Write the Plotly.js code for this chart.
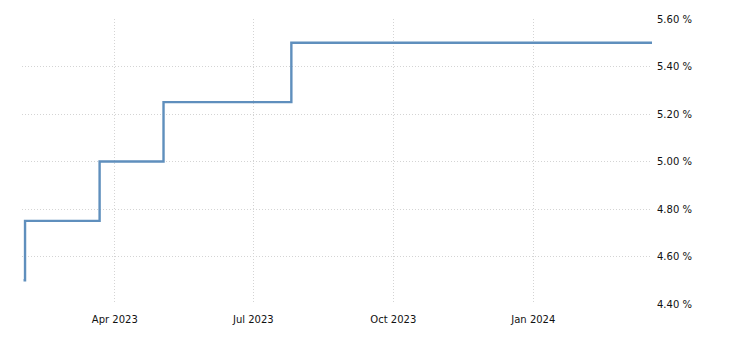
<!DOCTYPE html>
<html>
<head>
<meta charset="utf-8">
<script src="https://cdn.plot.ly/plotly-3.0.1.min.js"></script>
<style>html,body{margin:0;padding:0;background:#fff;}#chart{width:730px;height:340px;}</style>
</head>
<body>
<div id="chart"></div>
<script>
var dates = ['2023-01-31','2023-02-01','2023-03-22','2023-05-03','2023-07-26','2024-03-19'];
var rates = [4.50, 4.75, 5.00, 5.25, 5.50, 5.50];
var yTicks = [4.40, 4.60, 4.80, 5.00, 5.20, 5.40, 5.60];
var yTickText = yTicks.map(function (v) { return v.toFixed(2) + ' %'; });

var trace = {
  x: dates, y: rates, type: 'scatter', mode: 'lines',
  line: {shape: 'hv', color: '#5f8fbd', width: 2.4},
  hoverinfo: 'skip'
};
var layout = {
  width: 730, height: 340,
  margin: {l: 22, r: 78, t: 19, b: 36},
  paper_bgcolor: '#fff', plot_bgcolor: '#fff',
  showlegend: false,
  font: {family: 'DejaVu Sans, Verdana, sans-serif', size: 10, color: '#111'},
  xaxis: {
    type: 'date', range: ['2023-01-30', '2024-03-19'],
    tick0: '2023-01-01', dtick: 'M3', tickformat: '%b %Y',
    showgrid: true, gridcolor: '#d4d4d4', griddash: '1px,2px', gridwidth: 1,
    zeroline: false, showline: false, ticks: '', ticklabelstandoff: 8
  },
  yaxis: {
    side: 'right', range: [4.40, 5.60], tickmode: 'array',
    tickvals: yTicks, ticktext: yTickText,
    showgrid: true, gridcolor: '#d4d4d4', griddash: '1px,2px', gridwidth: 1,
    zeroline: false, showline: false, ticks: '', ticklabelstandoff: 4
  }
};
Plotly.newPlot('chart', [trace], layout, {displayModeBar: false, staticPlot: true});
</script>
</body>
</html>
